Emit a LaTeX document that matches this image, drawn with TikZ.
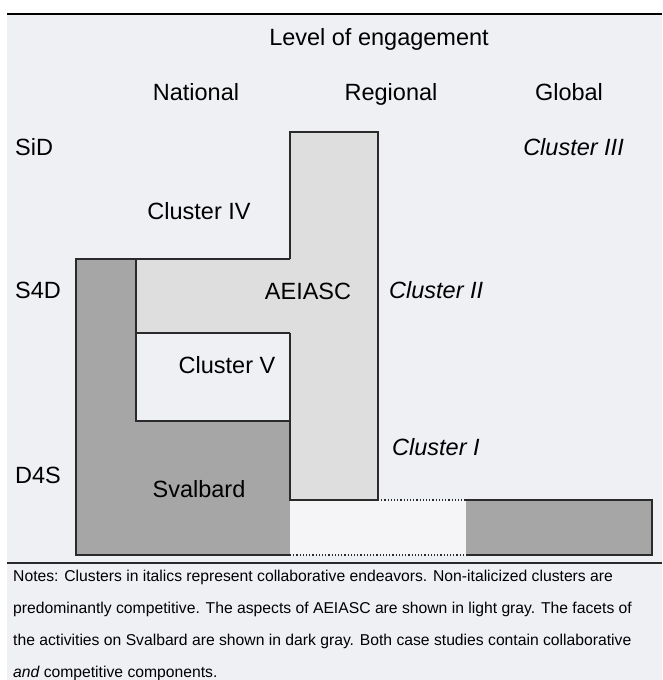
\documentclass[tikz,border=0pt]{standalone}
\usepackage{fontspec}
\setmainfont{Liberation Sans}
\definecolor{bgc}{HTML}{EFF0F4}
\definecolor{lightg}{HTML}{DEDEDE}
\definecolor{darkg}{HTML}{A6A6A6}
\definecolor{whitish}{HTML}{F5F5F8}
\definecolor{edge}{HTML}{2A2A2A}
\begin{document}
\begin{tikzpicture}[x=1pt,y=-1pt,
  lbl/.style={inner sep=0pt,font=\fontsize{23.5}{23.5}\selectfont},
  ilbl/.style={lbl,font=\fontsize{23.5}{23.5}\selectfont\itshape},
  note/.style={inner sep=0pt,anchor=base west,font=\fontsize{15.7}{15.7}\selectfont},
  outline/.style={draw=edge,line width=1.5pt},
  dots/.style={draw=edge,line width=1.2pt,dotted}]
\useasboundingbox (0,0) rectangle (662,680);
\fill[white] (0,0) rectangle (662,680);
\fill[bgc] (7,15) rectangle (662,680);
\draw[line width=2.5pt] (7,14) -- (662,14);
% fills
\fill[darkg] (76,259) -- (136,259) -- (136,421) -- (290,421) -- (290,555) -- (76,555) -- cycle;
\fill[lightg] (136,259) -- (290,259) -- (290,132) -- (378,132) -- (378,500) -- (290,500) -- (290,333) -- (136,333) -- cycle;
\fill[whitish] (290,500) rectangle (466,555);
\fill[darkg] (466,500) rectangle (652,555);
% outlines
\draw[outline] (290,259) -- (76,259) -- (76,555) -- (290,555);
\draw[outline] (136,259) -- (136,421) -- (290,421);
\draw[outline] (136,333) -- (290,333);
\draw[outline] (290,259) -- (290,132) -- (378,132) -- (378,500) -- (290,500) -- (290,333);
\draw[dots] (378,500) -- (466,500);
\draw[dots] (290,555) -- (466,555);
\draw[outline] (466,500) -- (652,500) -- (652,555) -- (466,555);
\draw[draw=edge,line width=1.5pt] (7,563) -- (662,563);
% labels
\node[lbl,anchor=base] (title) at (379,45) {Level of engagement};
\node[lbl,anchor=base] (nat) at (196,100) {National};
\node[lbl,anchor=base] (reg) at (391,100) {Regional};
\node[lbl,anchor=base] (glo) at (569,100) {Global};
\node[lbl,anchor=base west] (sid) at (15,155) {SiD};
\node[lbl,anchor=base west] (s4d) at (15,298) {S4D};
\node[lbl,anchor=base west] (d4s) at (15,483) {D4S};
\node[ilbl,anchor=base east] (c3) at (624,155) {Cluster III};
\node[lbl,anchor=base] (c4) at (199,219) {Cluster IV};
\node[lbl,anchor=base] (aei) at (308,299) {AEIASC};
\node[ilbl,anchor=base west] (c2) at (389,298) {Cluster II};
\node[lbl,anchor=base] (c5) at (227,373) {Cluster V};
\node[ilbl,anchor=base west] (c1) at (392,455) {Cluster I};
\node[lbl,anchor=base] (sv) at (199,497) {Svalbard};
% notes
\node[note] (n1) at (13,581) {Notes: Clusters in italics represent collaborative endeavors. Non-italicized clusters are};
\node[note] (n2) at (13,613) {predominantly competitive. The aspects of AEIASC are shown in light gray. The facets of};
\node[note] (n3) at (13,645) {the activities on Svalbard are shown in dark gray. Both case studies contain collaborative};
\node[note] (n4) at (13,677) {\itshape and\upshape{} competitive components.};
\end{tikzpicture}
\end{document}
